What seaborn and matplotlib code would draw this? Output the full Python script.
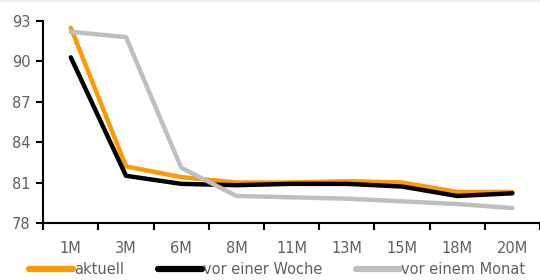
import numpy as np
import pandas as pd
import matplotlib
matplotlib.use("Agg")
import matplotlib.pyplot as plt
import seaborn as sns
from matplotlib.lines import Line2D

# ------------------------------------------------------------
# data
# ------------------------------------------------------------
laufzeiten = ["1M", "3M", "6M", "8M", "11M", "13M", "15M", "18M", "20M"]

aktuell       = [92.5, 82.2, 81.4, 81.0, 81.0, 81.1, 81.0, 80.3, 80.3]
vor_woche     = [90.3, 81.5, 80.9, 80.8, 80.9, 80.9, 80.7, 80.0, 80.2]
vor_monat     = [92.2, 91.8, 82.1, 80.0, 79.9, 79.8, 79.6, 79.4, 79.1]

series_names = ["aktuell", "vor einer Woche", "vor einem Monat"]
y_ticks = [78, 81, 84, 87, 90, 93]

df = pd.DataFrame({
    "Laufzeit": laufzeiten * 3,
    "Wert": aktuell + vor_woche + vor_monat,
    "Serie": np.repeat(series_names, len(laufzeiten)),
})

colors = {"aktuell": "#FF9900", "vor einer Woche": "#000000",
          "vor einem Monat": "#BFBFBF"}

# ------------------------------------------------------------
# plot
# ------------------------------------------------------------
sns.set_style("white")
plt.rcParams["font.family"] = ["DejaVu Sans"]

fig = plt.figure(figsize=(5.4, 2.8), dpi=100)
ax = fig.add_axes([0.08, 0.204, 0.92, 0.721])

sns.lineplot(data=df, x="Laufzeit", y="Wert", hue="Serie",
             palette=colors, hue_order=series_names, sort=False,
             linewidth=3.2, ax=ax, legend=False)

ax.set_ylim(78, 93)
ax.set_yticks(y_ticks)
ax.set_xlim(-0.5, len(laufzeiten) - 0.5)
ax.set_xticks(range(len(laufzeiten)))
ax.set_xticklabels(laufzeiten)
ax.set_xticks(np.arange(-0.5, len(laufzeiten) + 0.5, 1), minor=True)
ax.set_xlabel("")
ax.set_ylabel("")

for side in ["top", "right"]:
    ax.spines[side].set_visible(False)
for side in ["left", "bottom"]:
    ax.spines[side].set_color("black")
    ax.spines[side].set_linewidth(1.5)

txt = "#606060"
ax.tick_params(axis="y", which="major", direction="out", length=5, width=1.5,
               color="black", labelcolor=txt, labelsize=10.5, pad=4, left=True)
ax.tick_params(axis="x", which="major", length=0, labelcolor=txt,
               labelsize=10.5, pad=13)
ax.tick_params(axis="x", which="minor", direction="out", length=5, width=1.5,
               color="black", bottom=True)

handles = [Line2D([0], [0], color=colors[n], lw=4.5) for n in series_names]
leg = fig.legend(handles, series_names, loc="lower left", ncol=3,
                 bbox_to_anchor=(0.03, -0.035), frameon=False,
                 handlelength=3.0, handletextpad=0.05, columnspacing=2.35,
                 fontsize=10.5, labelcolor=txt)

# faint line along the top edge
fig.add_artist(Line2D([0, 1], [0.997, 0.997], transform=fig.transFigure,
                      color="#eeeeee", lw=1.5))

fig.savefig("out.png", dpi=100)
